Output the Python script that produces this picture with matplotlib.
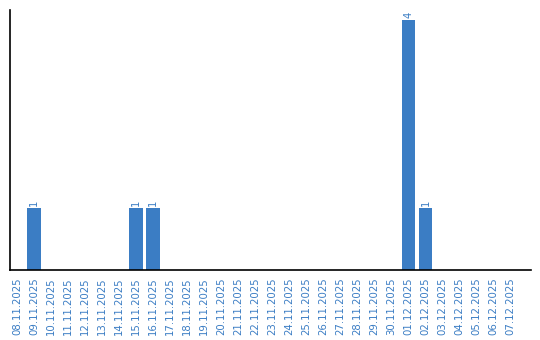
import matplotlib
matplotlib.use("Agg")
import matplotlib.pyplot as plt
import datetime as dt

start = dt.date(2025, 11, 8)
dates = [(start + dt.timedelta(days=i)).strftime("%d.%m.%Y") for i in range(30)]
counts_by_date = {"09.11.2025": 1, "15.11.2025": 1, "16.11.2025": 1,
                  "01.12.2025": 4, "02.12.2025": 1}
values = [counts_by_date.get(d, 0) for d in dates]

blue = "#3b7dc4"
fig = plt.figure(figsize=(5.4, 3.4), dpi=100)
ax = fig.add_axes([10/540, 70/340, 521/540, 260/340])
x = list(range(len(dates)))
ax.bar(x, values, width=0.82, color=blue)
for xi, v in zip(x, values):
    if v > 0:
        ax.text(xi, v + 0.03, str(v), rotation=90, ha="center", va="bottom",
                color=blue, fontsize=7.3)
ax.set_xlim(-0.42, 30.2)
ax.set_ylim(0, 4.16)
ax.set_xticks(x)
ax.set_xticklabels(dates, rotation=90, fontsize=7.3, color=blue)
ax.tick_params(axis="x", length=0, pad=5)
ax.set_yticks([])
for s in ["top", "right"]:
    ax.spines[s].set_visible(False)
ax.spines["left"].set_linewidth(1.2)
ax.spines["bottom"].set_linewidth(1.2)
fig.savefig("out.png", dpi=100)
